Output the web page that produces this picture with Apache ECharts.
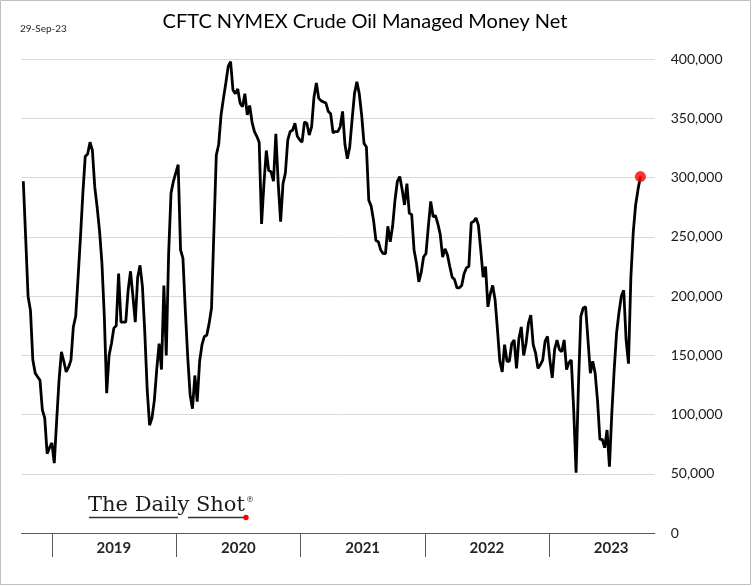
<!DOCTYPE html>
<html><head><meta charset="utf-8">
<script src="https://cdn.jsdelivr.net/npm/echarts@6/dist/echarts.min.js"></script>
<style>html,body{margin:0;padding:0;background:#fff}#c{width:752px;height:586px}</style>
</head><body><div id="c"></div>
<script>
const titleText = 'CFTC NYMEX Crude Oil Managed Money Net';
const dateLabel = '29-Sep-23';
const logoText = 'The Daily Shot';
const firstWeek = '2018-10-09';          // weekly observations (Tuesdays)
const yearLabels = [2019, 2020, 2021, 2022, 2023];
// managed money net position, thousands of contracts, one value per week
const netThousands = [
  297,249,200,188,146,135,132,129,104,97,67,72,76,59,95,129,153,145,136,140,
  146,174,183,216,250,287,318,320,330,323,292,275,255,228,183,118,150,160,173,175,
  219,178,178,178,205,221,200,178,216,226,208,169,121,91,97,112,138,160,138,209,
  150,236,287,297,304,311,239,232,188,149,117,105,133,111,145,159,166,167,177,190,
  255,319,328,353,367,380,394,398,374,371,375,363,360,371,353,361,347,339,335,330,
  261,295,323,306,305,297,337,295,263,295,304,332,339,340,346,335,332,330,347,346,
  336,343,368,380,367,365,364,363,356,354,338,339,339,343,356,328,316,326,349,371,
  381,371,353,329,326,281,276,264,247,246,239,236,236,259,246,259,281,297,301,290,
  277,295,270,269,239,228,212,220,233,236,259,280,267,268,261,252,233,240,235,225,
  216,214,207,207,209,219,224,225,262,263,266,260,239,216,225,191,202,209,197,172,
  145,136,159,145,145,160,163,139,164,174,150,160,177,184,159,152,139,142,146,162,
  166,146,131,155,163,155,153,163,138,144,146,104,51,125,183,190,191,163,135,145,
  135,112,79,79,72,87,56,101,138,169,186,200,205,163,143,216,254,277,290,301
];

const DAY = 86400000;
const t0 = Date.parse(firstWeek + 'T00:00:00Z');
const seriesData = netThousands.map((v, i) => [t0 + i * 7 * DAY, v * 1000]);
const lastPoint = seriesData[seriesData.length - 1];
const yearStarts = yearLabels.map(y => Date.UTC(y, 0, 1));
const yearMids = yearLabels.map(y => Date.UTC(y, 6, 2));

const chart = echarts.init(document.getElementById('c'), null, {renderer: 'canvas'});
chart.setOption({
  animation: false,
  backgroundColor: '#fff',
  grid: {left: 21.6, right: 97.3, top: 59.3, bottom: 53},
  xAxis: {
    type: 'value',
    min: Date.UTC(2018, 9, 4),
    max: Date.UTC(2023, 10, 7),
    axisLine: {show: true, lineStyle: {color: '#595959', width: 1}},
    axisTick: {show: true, length: 24, customValues: yearStarts, lineStyle: {color: '#595959', width: 1}},
    axisLabel: {
      customValues: yearMids,
      formatter: v => String(new Date(v).getUTCFullYear()),
      margin: 8, fontFamily: 'Lato', fontWeight: 'bold', fontSize: 15, color: '#262626'
    },
    splitLine: {show: false}
  },
  yAxis: {
    type: 'value', position: 'right', min: 0, max: 400000, interval: 50000,
    axisLine: {show: false}, axisTick: {show: false},
    splitLine: {lineStyle: {color: '#d9d9d9', width: 1}},
    axisLabel: {
      margin: 16, formatter: v => v.toLocaleString('en-US'),
      fontFamily: 'Lato', fontSize: 14, color: '#1a1a1a'
    }
  },
  series: [
    {
      type: 'line', data: seriesData, showSymbol: false, symbol: 'none',
      lineStyle: {color: '#000', width: 2.8}, z: 3
    },
    {
      type: 'scatter', data: [lastPoint], symbol: 'circle', symbolSize: 11,
      itemStyle: {color: '#ff0000'}, z: 5
    }
  ],
  graphic: [
    {type: 'rect', shape: {x: 0.5, y: 0.5, width: 750, height: 584},
     style: {fill: 'none', stroke: '#bfbfbf', lineWidth: 1}, silent: true},
    {type: 'text', x: 365, y: 22, style: {text: titleText, font: '20px Lato', fill: '#000', textAlign: 'center', textVerticalAlign: 'middle'}},
    {type: 'text', x: 20, y: 29, style: {text: dateLabel, font: '10px Lato', fill: '#262626', textAlign: 'left', textVerticalAlign: 'middle'}},
    {type: 'text', x: 88, y: 516, style: {text: logoText, font: '21px "DejaVu Serif"', fill: '#1a1a1a', textAlign: 'left', textVerticalAlign: 'bottom'}},
    {type: 'text', x: 246, y: 496, style: {text: '®', font: '8px "DejaVu Serif"', fill: '#1a1a1a', textAlign: 'left', textVerticalAlign: 'top'}},
    {type: 'line', shape: {x1: 89, y1: 517.5, x2: 178, y2: 517.5}, style: {stroke: '#333', lineWidth: 1.6}},
    {type: 'line', shape: {x1: 188, y1: 517.5, x2: 245, y2: 517.5}, style: {stroke: '#333', lineWidth: 1.6}},
    {type: 'circle', shape: {cx: 246, cy: 517.5, r: 2.7}, style: {fill: '#ff0000'}}
  ]
});
</script></body></html>
